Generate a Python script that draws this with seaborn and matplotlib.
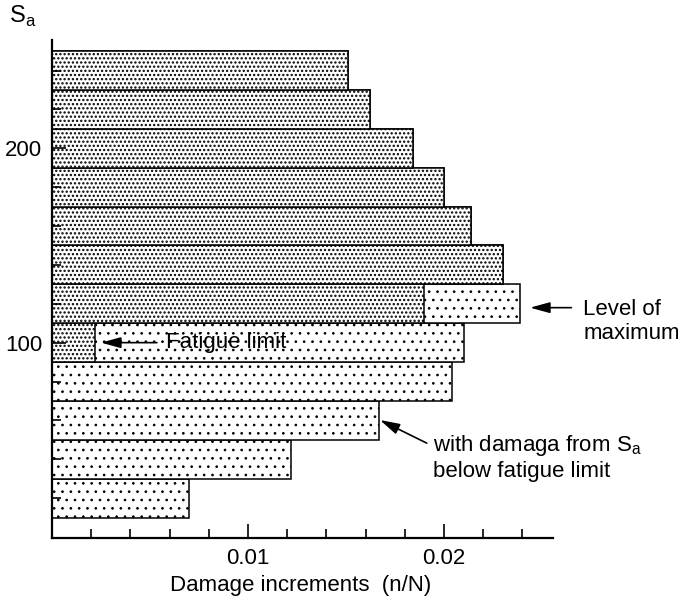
import numpy as np
import pandas as pd
import matplotlib.pyplot as plt
import seaborn as sns

# stress amplitude levels (bar centres) and damage increments
sa_levels = [20, 40, 60, 80, 100, 120, 140, 160, 180, 200, 220, 240]
damage_total = [0.0070, 0.0122, 0.0167, 0.0204, 0.0210, 0.0239,
                0.0230, 0.0214, 0.0200, 0.0184, 0.0162, 0.0151]
# part of each bar drawn with the dense dot pattern
damage_dense = [0, 0, 0, 0, 0.0022, 0.0190,
                0.0230, 0.0214, 0.0200, 0.0184, 0.0162, 0.0151]

x_major = [0.01, 0.02]
x_major_labels = ['0.01', '0.02']
x_minor = [0.002, 0.004, 0.006, 0.008, 0.012, 0.014, 0.016, 0.018, 0.022, 0.024]
y_major = [100, 200]
y_minor = [20, 40, 60, 80, 120, 140, 160, 180, 220, 240]

FS = 16
plt.rcParams['font.family'] = ['Liberation Sans', 'DejaVu Sans']
plt.rcParams['hatch.color'] = 'black'

df = pd.DataFrame({'Sa': sa_levels, 'total': damage_total, 'dense': damage_dense})

fig = plt.figure(figsize=(6.81, 6.0), dpi=100)
ax = fig.add_axes([52 / 681, 62 / 600, 501 / 681, 498 / 600])

# whole bar, sparse dots
with plt.rc_context({'hatch.linewidth': 0.7}):
    sns.barplot(data=df, x='total', y='Sa', orient='y', native_scale=True, width=1.0,
                color='white', saturation=1, edgecolor='black', linewidth=1.1,
                hatch='..', errorbar=None, ax=ax)
# dense part on top
with plt.rc_context({'hatch.linewidth': 1.1}):
    sns.barplot(data=df[df['dense'] > 0], x='dense', y='Sa', orient='y', native_scale=True,
                width=1.0, color='white', saturation=1, edgecolor='black', linewidth=1.1,
                hatch='....', errorbar=None, ax=ax)

ax.set_xlim(0, 0.02556)
ax.set_ylim(-0.5, 255.7)
ax.set_xticks(x_major)
ax.set_xticklabels(x_major_labels)
ax.set_xticks(x_minor, minor=True)
ax.set_yticks(y_major)
ax.set_yticks(y_minor, minor=True)
ax.tick_params(which='both', direction='in', width=1.2, labelsize=FS, colors='black')
ax.tick_params(which='major', length=10, pad=7)
ax.tick_params(which='minor', length=6.5)
sns.despine(ax=ax)
for side in ['left', 'bottom']:
    ax.spines[side].set_linewidth(1.6)
    ax.spines[side].set_color('black')

ax.set_ylabel('')
ax.set_xlabel('Damage increments  (n/N)', fontsize=FS)
ax.xaxis.set_label_coords(0.497, -(585 - 538) / 498)
ax.xaxis.label.set_va('center')

fig.text(9 / 681, 1 - 16 / 600, 'S$_\\mathregular{a}$', fontsize=FS + 1, ha='left', va='center')

arrow = dict(arrowstyle='-|>,head_length=0.8,head_width=0.22', color='black',
             lw=1.2, shrinkA=0, shrinkB=0, mutation_scale=15)
ax.annotate('', xy=(0.0025, 100), xytext=(0.00535, 100), arrowprops=arrow)
ax.text(0.00582, 100, 'Fatigue limit', fontsize=FS, ha='left', va='center')

ax.annotate('', xy=(0.02439, 118), xytext=(0.0265, 118), arrowprops=arrow,
            annotation_clip=False)
ax.text(0.0271, 111, 'Level of\nmaximum', fontsize=FS, ha='left', va='center',
        clip_on=False)

ax.annotate('', xy=(0.01673, 60.2), xytext=(0.01912, 48.3), arrowprops=arrow)
ax.text(0.01944, 41, 'with damaga from S$_\\mathregular{a}$\nbelow fatigue limit',
        fontsize=FS, ha='left', va='center')

fig.savefig('out.png', dpi=100)
